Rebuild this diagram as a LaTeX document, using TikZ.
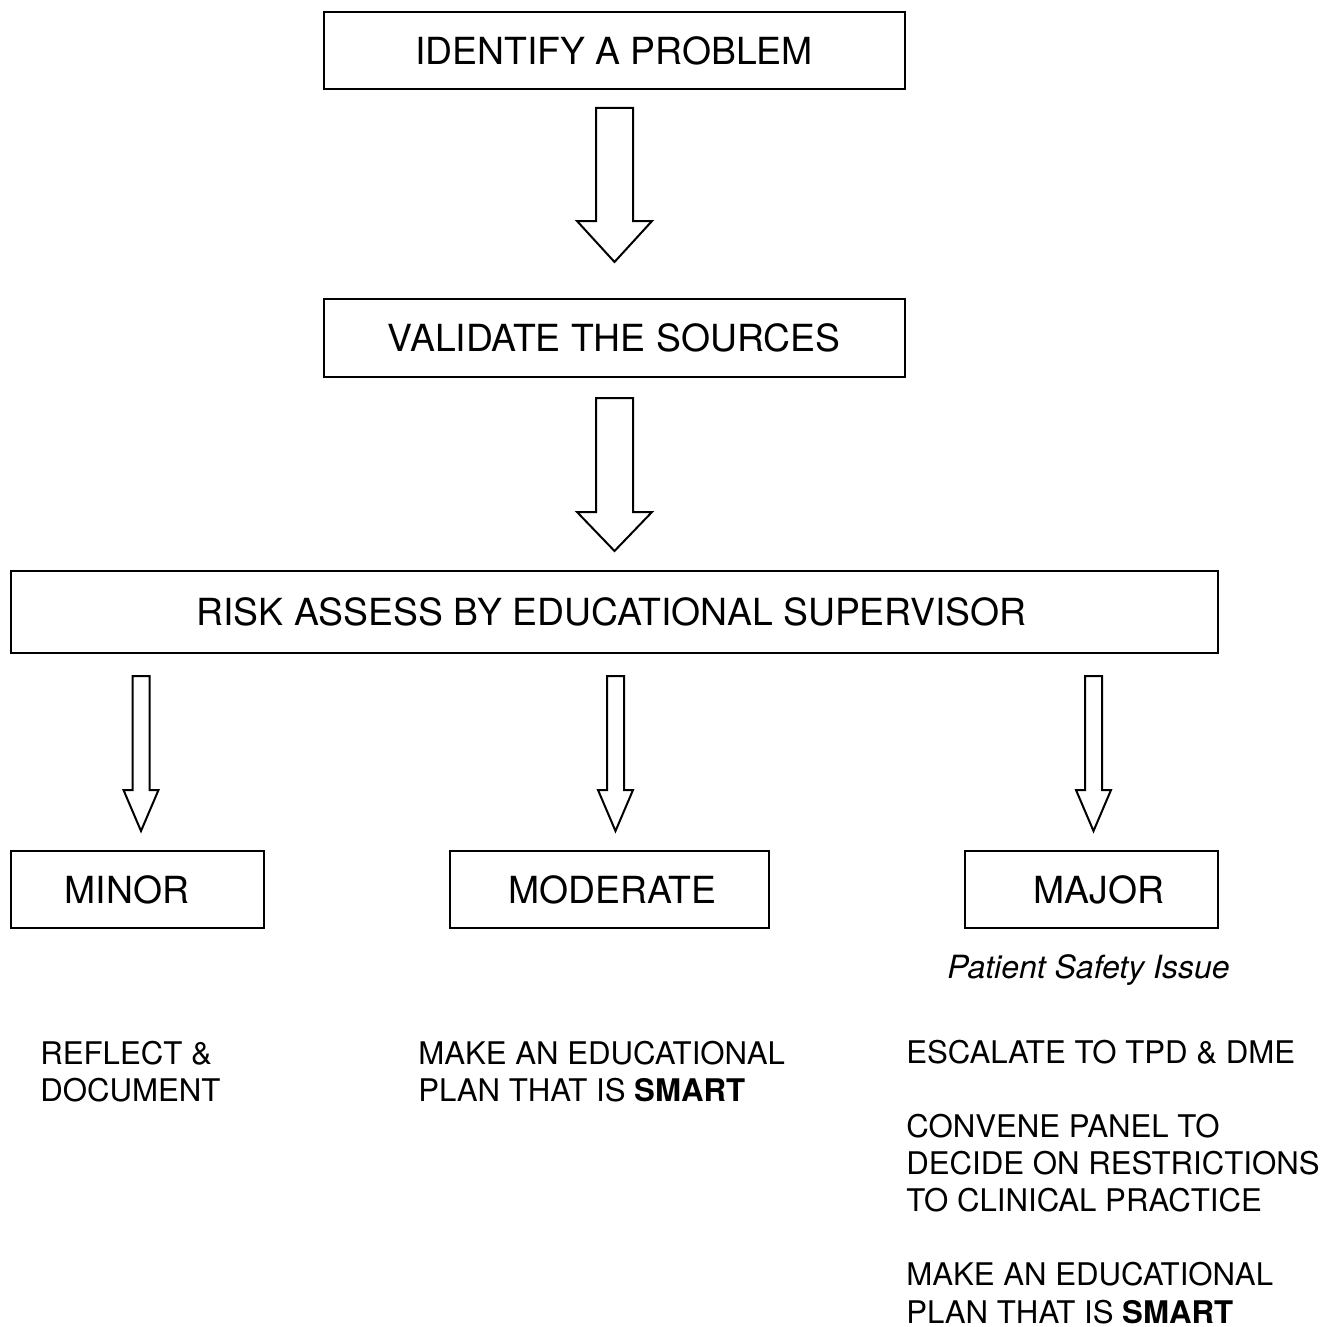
\documentclass[tikz,border=0pt]{standalone}
\usepackage{fontspec}
\setmainfont{TeX Gyre Heros}
\newcommand{\BlockArrow}[6]{\draw[arrowline] (#1-#5,#2) -- (#1+#5,#2) -- (#1+#5,#3) -- (#1+#6,#3) -- (#1,#4) -- (#1-#6,#3) -- (#1-#5,#3) -- cycle;}
\tikzset{
  box/.style={draw, line width=1.5pt, inner sep=0pt},
  boxtext/.style={inner sep=0pt, font=\fontsize{28}{33}\selectfont},
  bodytext/.style={inner sep=0pt, anchor=north west, align=left, font=\fontsize{23.4}{27.8}\selectfont},
  arrowline/.style={draw, line width=1.5pt, fill=white, line join=miter}
}
\begin{document}
\begin{tikzpicture}[x=0.75pt, y=-0.75pt]
\useasboundingbox (0,0) rectangle (1331,1327);
% boxes
\node[box, minimum width=581*0.75pt, minimum height=77*0.75pt] (b1) at (614.5,50.5) {};
\node[boxtext] (t1) at (614,50.5) {IDENTIFY A PROBLEM};
\node[box, minimum width=581*0.75pt, minimum height=78*0.75pt] (b2) at (614.5,338) {};
\node[boxtext] (t2) at (614,338) {VALIDATE THE SOURCES};
\node[box, minimum width=1207*0.75pt, minimum height=82*0.75pt] (b3) at (614.5,612) {};
\node[boxtext] (t3) at (611.5,612) {RISK ASSESS BY EDUCATIONAL SUPERVISOR};
\node[box, minimum width=253*0.75pt, minimum height=77*0.75pt] (minor) at (137.5,889.5) {};
\node[boxtext] (tminor) at (127,889.5) {MINOR};
\node[box, minimum width=319*0.75pt, minimum height=77*0.75pt] (moderate) at (609.5,889.5) {};
\node[boxtext] (tmoderate) at (612.5,889.5) {MODERATE};
\node[box, minimum width=253*0.75pt, minimum height=77*0.75pt] (major) at (1091.5,889.5) {};
\node[boxtext] (tmajor) at (1099,889.5) {MAJOR};
% arrows
\BlockArrow{614.5}{108}{221}{262}{18.5}{37.5}
\BlockArrow{614.5}{398}{512}{551}{18.5}{37.5}
\BlockArrow{141}{676}{790}{831}{8.5}{17.5}
\BlockArrow{615.5}{676}{790}{831}{8.5}{17.5}
\BlockArrow{1093.5}{676}{790}{831}{8.5}{17.5}
% texts
\node[inner sep=0pt, font=\fontsize{24}{28}\itshape] (psi) at (1088.5,970) {Patient Safety Issue};
\node[bodytext] (reflect) at (40,1041) {REFLECT \&\\DOCUMENT};
\node[bodytext] (plan1) at (418,1041) {MAKE AN EDUCATIONAL\\PLAN THAT IS \textbf{SMART}};
\node[bodytext] (major1) at (906,1040) {ESCALATE TO TPD \& DME\\[27.8pt]CONVENE PANEL TO\\DECIDE ON RESTRICTIONS\\TO CLINICAL PRACTICE\\[27.8pt]MAKE AN EDUCATIONAL\\PLAN THAT IS \textbf{SMART}};
\end{tikzpicture}
\end{document}
